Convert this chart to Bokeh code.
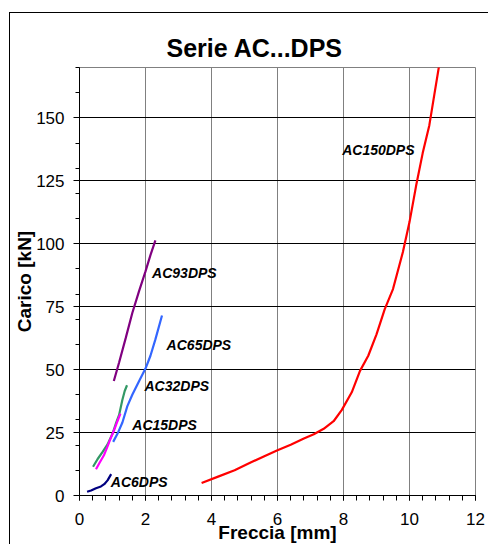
from bokeh.plotting import figure
from bokeh.models import FixedTicker, SingleIntervalTicker, Range1d, InlineStyleSheet
from bokeh.core.properties import value
from bokeh.embed import file_html
from bokeh.resources import INLINE

# ---- data ----
ac150_x = [3.7, 4.2, 4.7, 5.2, 5.7, 6.0, 6.4, 6.8, 7.1, 7.4, 7.7, 7.95, 8.25, 8.5,
           8.75, 9.0, 9.25, 9.5, 9.8, 10.0, 10.2, 10.4, 10.6, 10.75, 10.9]
ac150_y = [5, 7.5, 10, 13.2, 16.2, 18, 20.2, 22.6, 24.3, 26.5, 29.5, 34, 41, 49.5,
           55.5, 64, 74, 82, 96.7, 108.6, 123, 136, 147, 159, 171]

ac93_x = [1.04, 1.2, 1.4, 1.6, 1.8, 2.0, 2.15, 2.3]
ac93_y = [45.5, 52.8, 62.5, 72.5, 81, 89, 95.5, 101.3]

ac65_x = [1.02, 1.15, 1.3, 1.45, 1.6, 1.8, 2.0, 2.15, 2.3, 2.5]
ac65_y = [21.3, 24.5, 29, 35.5, 40, 45.3, 50.4, 55.5, 62, 71.5]

ac32_x = [0.41, 0.55, 0.7, 0.85, 1.0, 1.1, 1.2, 1.3, 1.37, 1.44]
ac32_y = [11.4, 14.5, 17.3, 20.3, 24.5, 28.5, 32, 38, 41.5, 43.8]

ac15_x = [0.5, 0.6, 0.74, 0.85, 0.94, 1.05, 1.15, 1.24]
ac15_y = [10.4, 12.8, 16, 19.5, 22.6, 26, 29.5, 32.5]

ac6_x = [0.23, 0.35, 0.5, 0.65, 0.75, 0.85, 0.96]
ac6_y = [1.5, 2.0, 2.9, 3.6, 4.5, 6.0, 8.5]

series_names = ["AC150DPS", "AC93DPS", "AC65DPS", "AC32DPS", "AC15DPS", "AC6DPS"]
series_x = [ac150_x, ac93_x, ac65_x, ac32_x, ac15_x, ac6_x]
series_y = [ac150_y, ac93_y, ac65_y, ac32_y, ac15_y, ac6_y]
series_colors = ["#FF0000", "#800080", "#3366FF", "#339966", "#FF00FF", "#000080"]

# label anchors (data coordinates, left-middle)
label_x = [7.96, 2.20, 2.64, 1.97, 1.60, 0.95]
label_y = [137.4, 88.5, 59.9, 43.4, 28.2, 5.3]

x_ticks_interval = 2
y_major_ticks = [0, 25, 50, 75, 100, 125, 150]
y_minor_ticks = [10, 20, 30, 40, 60, 70, 80, 90, 110, 120, 130, 140, 160, 170]

FONT = "Liberation Sans"

# the chart box starts at (9, 12) with a black left/top border
p = figure(width=479, height=532, output_backend="svg", toolbar_location=None,
           x_range=Range1d(0, 12), y_range=Range1d(0, 170),
           min_border_left=69, min_border_right=14, min_border_top=54,
           min_border_bottom=48, title="Serie AC...DPS")
box_css = (":host { margin-left: 9px !important; margin-top: 12px !important; "
           "border-left: 1px solid black !important; border-top: 1px solid black !important; "
           "border-right: none !important; border-bottom: none !important; "
           "outline: none !important; }")
p.stylesheets = [InlineStyleSheet(css=box_css)]
p.background_fill_color = "white"
p.border_fill_color = "white"
p.outline_line_color = "#808080"
p.outline_line_width = 1

p.title.text_font = FONT
p.title.text_font_size = "25px"
p.title.text_font_style = "bold"
p.title.text_color = "black"
p.title.align = "left"
p.title.offset = 87
p.title.standoff = 12

# axes
p.xaxis.ticker = SingleIntervalTicker(interval=x_ticks_interval, num_minor_ticks=5)
p.yaxis.ticker = FixedTicker(ticks=y_major_ticks, minor_ticks=y_minor_ticks)
for ax in (p.xaxis[0], p.yaxis[0]):
    ax.axis_line_color = "black"
    ax.major_tick_line_color = "black"
    ax.minor_tick_line_color = "black"
    ax.major_tick_in = 0
    ax.minor_tick_in = 0
    ax.major_label_text_font = FONT
    ax.major_label_text_font_size = "17px"
    ax.major_label_text_color = "black"
    ax.axis_label_text_font = FONT
    ax.axis_label_text_font_size = "19px"
    ax.axis_label_text_font_style = "bold"
    ax.axis_label_text_color = "black"

p.xaxis.axis_label = "Freccia [mm]"
p.xaxis.major_tick_out = 5
p.xaxis.minor_tick_out = 5
p.xaxis.major_label_standoff = 12
p.xaxis.axis_label_standoff = -6

p.yaxis.axis_label = "Carico [kN]"
p.yaxis.major_tick_out = 6
p.yaxis.minor_tick_out = 4
p.yaxis.major_label_standoff = 9
p.yaxis.axis_label_standoff = -2

# grids
p.xgrid.grid_line_color = "#808080"
p.xgrid.grid_line_width = 1
p.ygrid.grid_line_color = "black"
p.ygrid.grid_line_width = 1

for xs, ys, c in zip(series_x, series_y, series_colors):
    p.line(xs, ys, line_color=c, line_width=2.2)

p.text(x=label_x, y=label_y, text=series_names,
       text_font=value(FONT), text_font_size="14px",
       text_font_style="bold italic", text_color="black",
       text_align="left", text_baseline="middle")

open("out.html", "w").write(file_html(p, INLINE))
